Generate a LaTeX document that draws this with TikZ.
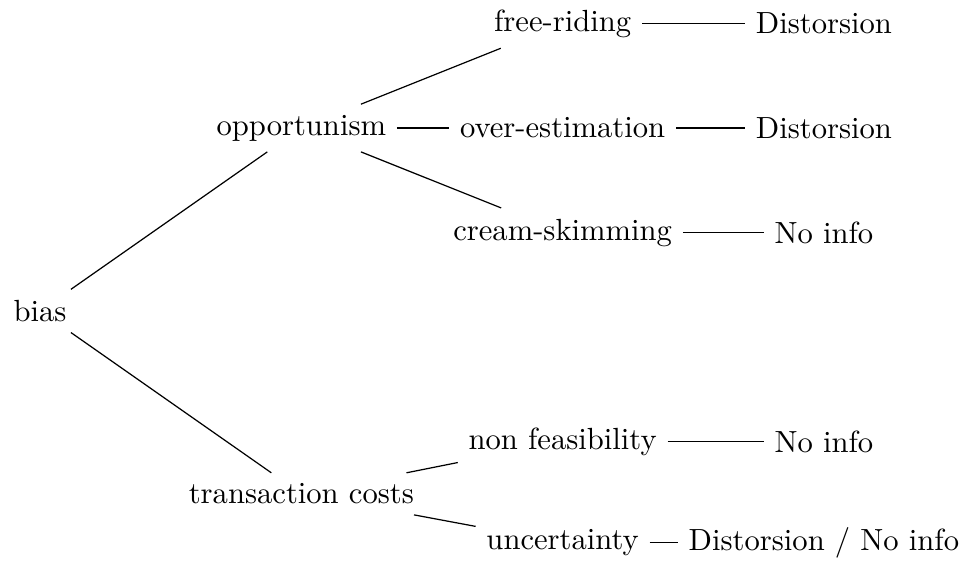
\documentclass[tikz,border=0pt]{standalone}
\usepackage{tikz}
\tikzstyle{racine}=[text=black]
\tikzstyle{cause}=[text=black]
\tikzstyle{feuille}=[text=black]
\tikzstyle{lien}=[-,thin,black]

\begin{document}
\begin{tikzpicture}
\useasboundingbox (-0.46,-2.92) rectangle (10.70,3.57);
\node[racine] (bias) at (0,0) {bias};
\node[cause] (oppo) at (3,2.1) {opportunism};
\node[cause] (trans) at (3,-2.1) {transaction costs};
\node[cause] (free) at (6,3.3) {free-riding};
\node[cause] (over) at (6,2.1) {over-estimation};
\node[cause] (cream) at (6,0.9) {cream-skimming};
\node[cause] (nonf) at (6,-1.5) {non feasibility};
\node[cause] (unc) at (6,-2.66) {uncertainty};
\node[feuille] (dist1) at (9,3.3) {Distorsion};
\node[feuille] (dist2) at (9,2.1) {Distorsion};
\node[feuille] (info1) at (9,0.9) {No info};
\node[feuille] (info2) at (9,-1.5) {No info};
\node[feuille] (both) at (9,-2.66) {Distorsion / No info};
%Placementdesbranches
\draw[lien] (bias) -- (oppo);
\draw[lien] (bias) -- (trans);
\draw[lien] (oppo) -- (free);
\draw[lien] (oppo) -- (over);
\draw[lien] (oppo) -- (cream);
\draw[lien] (trans) -- (nonf);
\draw[lien] (trans) -- (unc);
\draw[lien] (free) -- (dist1);
\draw[lien] (over) -- (dist2);
\draw[lien] (cream) -- (info1);
\draw[lien] (nonf) -- (info2);
\draw[lien] (unc) -- (both);
\end{tikzpicture}
\end{document}
